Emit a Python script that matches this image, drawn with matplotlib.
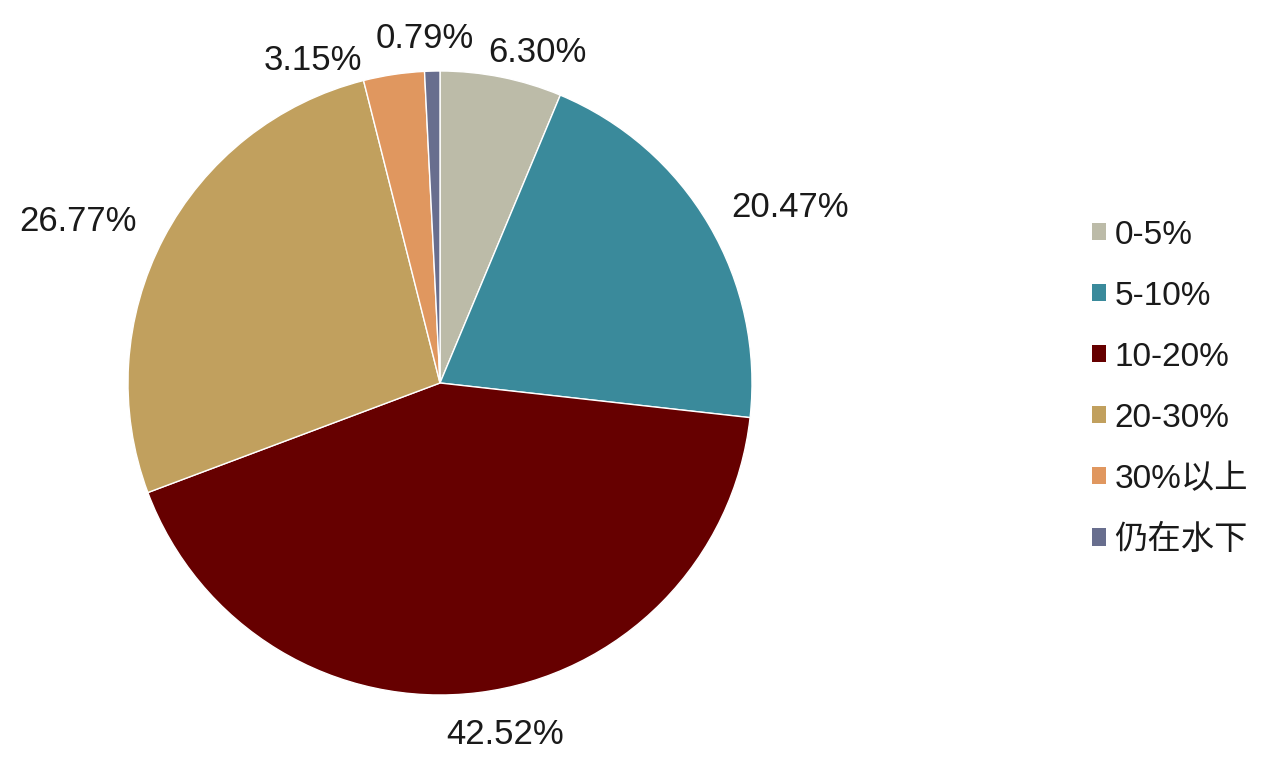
import numpy as np
import matplotlib
matplotlib.use("Agg")
import matplotlib.pyplot as plt
from matplotlib.patches import Patch

plt.rcParams['font.family'] = ['Liberation Sans', 'Noto Sans CJK SC', 'DejaVu Sans']

categories = ['0-5%', '5-10%', '10-20%', '20-30%', '30%以上', '仍在水下']
values = [6.30, 20.47, 42.52, 26.77, 3.15, 0.79]
colors = ['#BCBBA8', '#3A8A9B', '#660000', '#C1A05E', '#E0975F', '#686E8E']

# label placement (style): radial distance factor and angular offset (deg)
label_dist = [1.105, 1.255, 1.147, 1.272, 1.112, 1.106]
label_dang = [-5.0, -3.8, 3.4, 3.6, 13.0, 1.1]

fig = plt.figure(figsize=(12.72, 7.62), dpi=100)
cx, cy, r = 440, 762 - 383, 312
ax = fig.add_axes([(cx - r) / 1272, (cy - r) / 762, 2 * r / 1272, 2 * r / 762])
wedges, _ = ax.pie(values, colors=colors, startangle=90, counterclock=False,
                   radius=1.0, wedgeprops=dict(edgecolor='white', linewidth=1.0))
ax.set_xlim(-1, 1)
ax.set_ylim(-1, 1)
ax.set_aspect('equal')
ax.axis('off')

for w, v, d, da in zip(wedges, values, label_dist, label_dang):
    ang = np.deg2rad((w.theta1 + w.theta2) / 2 + da)
    ax.text(d * np.cos(ang), d * np.sin(ang), f'{v:.2f}%', ha='center', va='center',
            fontsize=25, color='#1a1a1a', clip_on=False)

handles = [Patch(facecolor=c, edgecolor='none') for c in colors]
fig.legend(handles, categories, loc='center left', bbox_to_anchor=(1092 / 1272, 0.491),
           frameon=False, fontsize=24, handlelength=0.42, handleheight=0.42,
           handletextpad=0.25, labelspacing=0.90, borderpad=0, borderaxespad=0,
           labelcolor='#1a1a1a')

fig.savefig('out.png', dpi=100, facecolor='white')
